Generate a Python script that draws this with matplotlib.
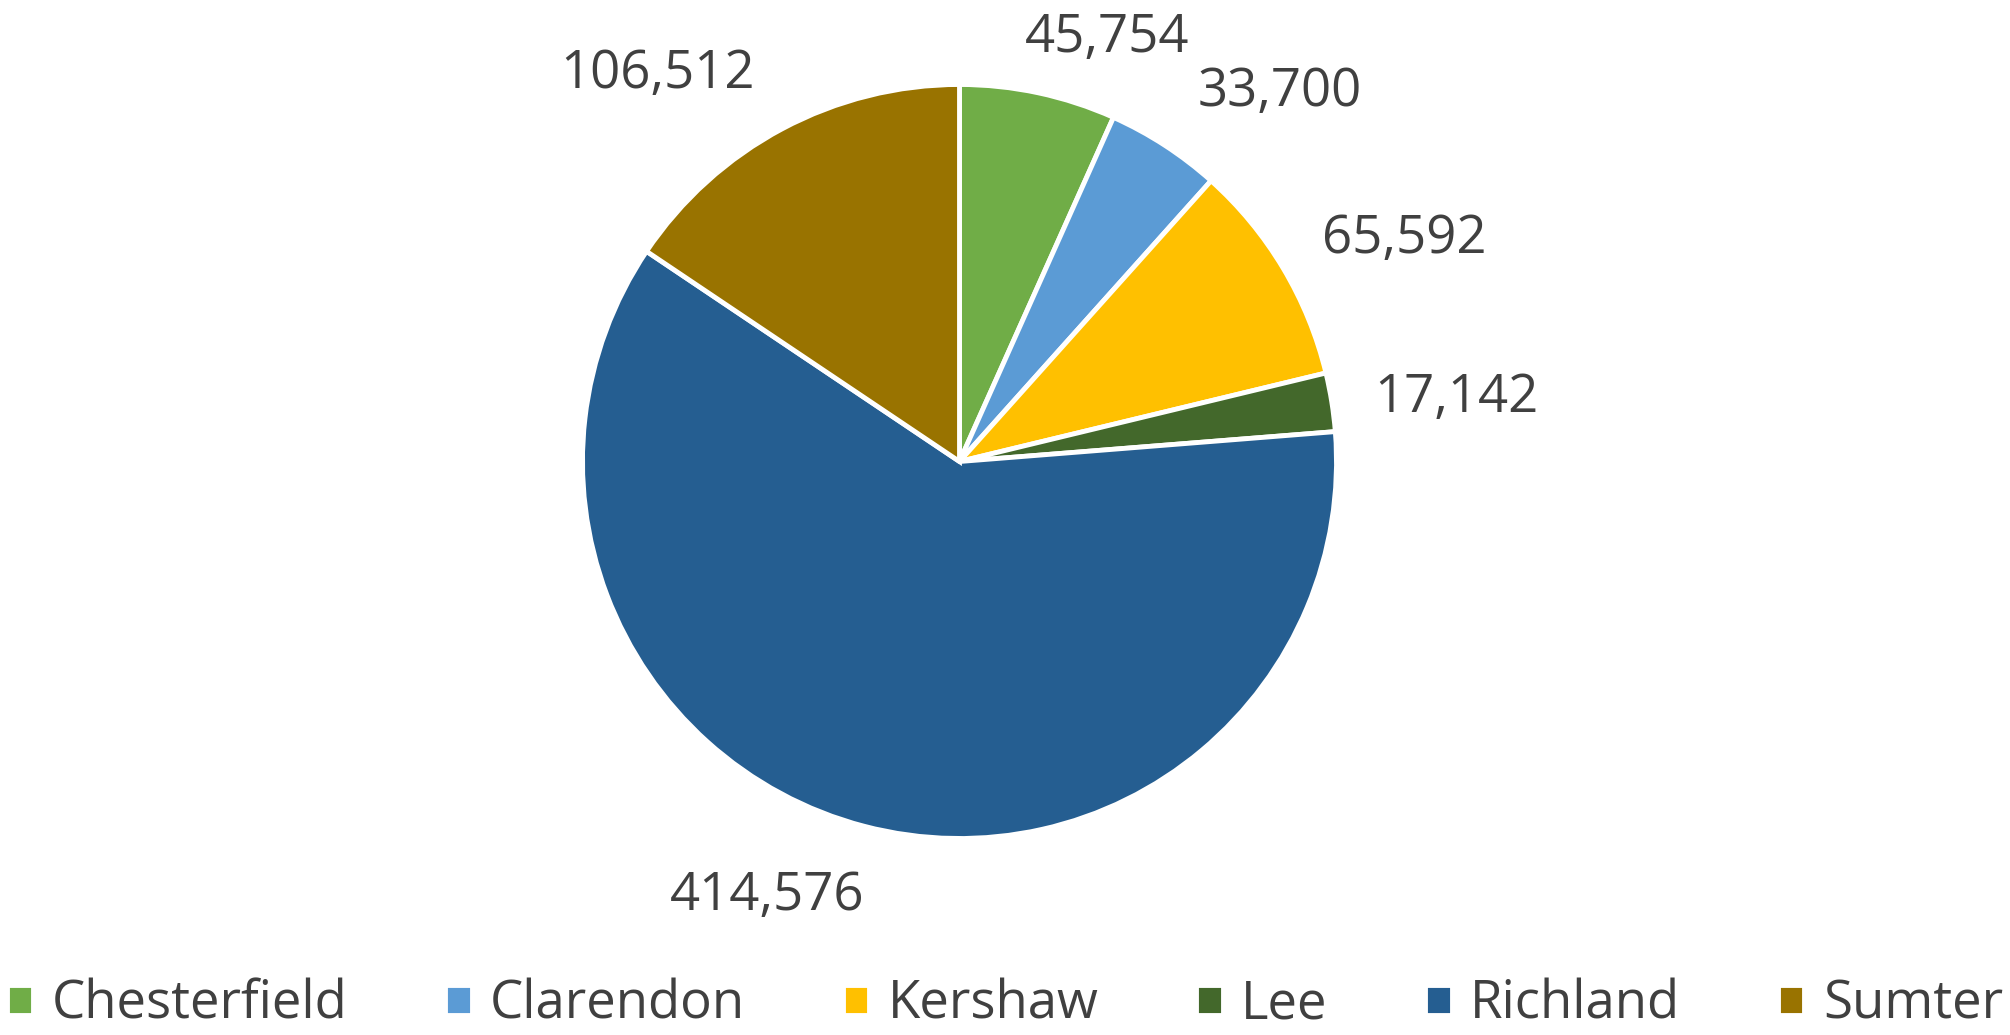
import matplotlib.pyplot as plt
import numpy as np

# === Data ===
counties = ['Chesterfield', 'Clarendon', 'Kershaw', 'Lee', 'Richland', 'Sumter']
population = [45754, 33700, 65592, 17142, 414576, 106512]
colors = ['#70AD47', '#5B9BD5', '#FFC000', '#43682B', '#255E91', '#997300']

# label nudges from the rim midpoint, in pixels (x, y up), to baseline centre
label_offsets = [(69, 41), (115, 39), (121, 15), (125, -10), (-97, -84), (-125, 41)]

plt.rcParams['font.family'] = ['Open Sans', 'DejaVu Sans']
text_color = '#404040'

W, H = 2010, 1035
fig = plt.figure(figsize=(W / 100, H / 100), dpi=100)
ax = fig.add_axes([0, 0, 1, 1])

wedges, _ = ax.pie(population, colors=colors, startangle=90, counterclock=False,
                   wedgeprops=dict(edgecolor='white', linewidth=3.5))

# pie centre at (959.5, 461.5) px from top-left, radius 377 px
cx, cy, R = 959.5, 461.5, 377
ax.set_xlim(-cx / R, (W - cx) / R)
ax.set_ylim(-(H - cy) / R, cy / R)
ax.set_aspect('auto')
ax.axis('off')

# === Data labels ===
for w, val, (dx, dy) in zip(wedges, population, label_offsets):
    mid = np.deg2rad((w.theta1 + w.theta2) / 2)
    ax.annotate(f"{val:,}", xy=(np.cos(mid), np.sin(mid)), xytext=(dx, dy),
                textcoords='offset pixels', ha='center', va='baseline',
                fontsize=38, color=text_color)

# === Legend ===
fig.legend(wedges, counties, loc='lower center', bbox_to_anchor=(0.5, 0.003),
           ncol=6, frameon=False, fontsize=38, labelcolor=text_color,
           handlelength=0.5, handleheight=0.5, handletextpad=0.35,
           columnspacing=1.85, borderpad=0, borderaxespad=0)

fig.savefig('out.png', dpi=100)
